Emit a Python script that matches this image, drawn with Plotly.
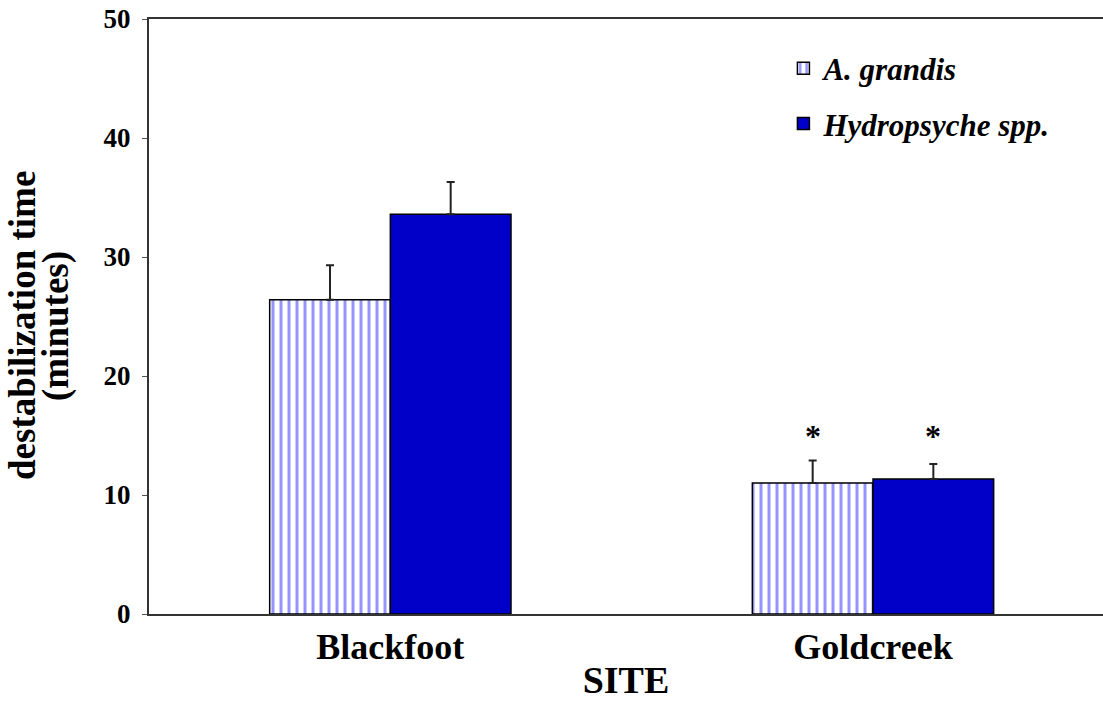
import plotly.graph_objects as go

sites = ["Blackfoot", "Goldcreek"]
grandis_mean = [26.4, 11.0]
grandis_se = [2.9, 1.9]
hydro_mean = [33.6, 11.35]
hydro_se = [2.7, 1.25]
y_ticks = [0, 10, 20, 30, 40, 50]
# significance markers (x offset within group, y position)
sig_sites = [1, 1]
sig_offsets = [-0.125, 0.125]
sig_y = [15.0, 15.0]

serif = "Liberation Serif"

fig = go.Figure()
fig.add_trace(go.Bar(
    x=[0, 1], y=grandis_mean, name="<b><i>A. grandis</i></b>",
    legendgroup="a",
    marker=dict(color="white", line=dict(color="black", width=1.5),
                pattern=dict(shape="|", fgcolor="#2b2bff", bgcolor="white",
                             size=8, solidity=0.38)),
    error_y=dict(type="data", symmetric=False, array=grandis_se,
                 arrayminus=[0, 0], color="#222222", thickness=2, width=4),
))
fig.add_trace(go.Bar(
    x=[0, 1], y=hydro_mean, name="<b><i>Hydropsyche spp.</i></b>",
    legendgroup="b",
    marker=dict(color="#0000c8", line=dict(color="black", width=1.5)),
    error_y=dict(type="data", symmetric=False, array=hydro_se,
                 arrayminus=[0, 0], color="#222222", thickness=2, width=4),
))

for s, off, yv in zip(sig_sites, sig_offsets, sig_y):
    fig.add_annotation(x=s + off, y=yv, text="<b>*</b>", showarrow=False,
                       font=dict(family=serif, size=32, color="black"))

# two-line y-axis title with tight line spacing
title_font = dict(family=serif, size=37, color="black")
fig.add_annotation(xref="paper", yref="paper", x=0, y=0.484, xshift=-127,
                   xanchor="center", yanchor="middle",
                   text="<b>destabilization time</b>", textangle=-90,
                   showarrow=False, font=title_font)
fig.add_annotation(xref="paper", yref="paper", x=0, y=0.484, xshift=-93,
                   xanchor="center", yanchor="middle",
                   text="<b>(minutes)</b>", textangle=-90,
                   showarrow=False, font=title_font)

fig.update_layout(
    width=1103, height=727,
    margin=dict(l=149, r=0, t=19, b=113),
    plot_bgcolor="white", paper_bgcolor="white",
    barmode="group", bargap=0.5, bargroupgap=0,
    showlegend=True,
    legend=dict(x=0.665, y=0.962, xanchor="left", yanchor="top",
                traceorder="grouped", tracegroupgap=12,
                font=dict(family=serif, size=31, color="black"),
                bgcolor="rgba(0,0,0,0)", itemwidth=30),
    font=dict(family=serif, color="black"),
    xaxis=dict(
        range=[-0.5, 1.4765], tickvals=[0, 1],
        ticktext=["<b>" + s + "</b>" for s in sites],
        tickfont=dict(family=serif, size=36, color="black"),
        showline=True, linecolor="#333333", linewidth=2, mirror=True,
        ticks="", showgrid=False, zeroline=False,
        title=dict(text="<b>SITE</b>", font=dict(family=serif, size=38, color="black"),
                   standoff=0),
    ),
    yaxis=dict(
        range=[0, 50], tickvals=y_ticks,
        ticktext=["<b>%d</b>" % v for v in y_ticks],
        tickfont=dict(family=serif, size=27, color="black"),
        showline=True, linecolor="#333333", linewidth=2,
        ticks="outside", ticklen=5, tickcolor="#555555", tickwidth=1,
        ticklabelstandoff=6,
        showgrid=False, zeroline=False,
    ),
)

fig.write_html("out.html")
